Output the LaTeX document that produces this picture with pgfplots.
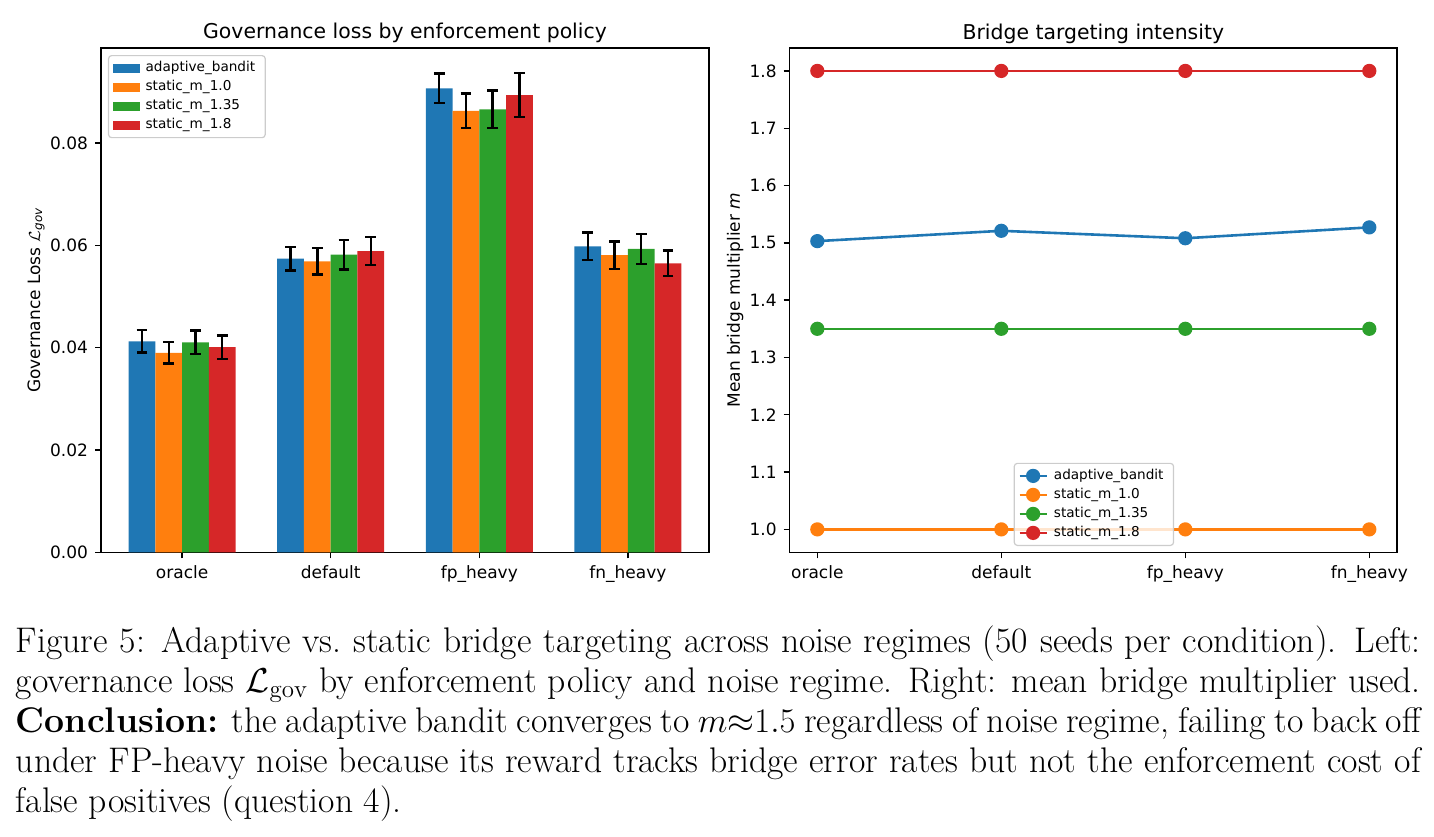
\documentclass[border=0pt]{standalone}
\usepackage{fontspec}
\newfontfamily\dejavu{DejaVu Sans}
\usepackage{amsmath}
\usepackage{pgfplots}
\pgfplotsset{compat=1.18}
\definecolor{c1}{HTML}{1F77B4}
\definecolor{c2}{HTML}{FF7F0E}
\definecolor{c3}{HTML}{2CA02C}
\definecolor{c4}{HTML}{D62728}
\pgfplotsset{
  every axis title/.style={at={(0.5,1)}, anchor=base, yshift=4.5pt, inner sep=0pt, font=\dejavu\fontsize{10.2}{12}\selectfont},
  base/.style={
    scale only axis, width=304pt, height=252.15pt,
    tick align=outside, tick pos=left, major tick length=3pt,
    tick style={black, line width=0.68pt},
    axis line style={black, line width=0.68pt},
    tick label style={font=\dejavu\fontsize{8.5}{10}\selectfont},
    /pgf/number format/assume math mode=true,
    label style={font=\dejavu\fontsize{8.5}{10}\selectfont},
    legend style={font=\dejavu\fontsize{6.8}{8}\selectfont, draw=black!20, line width=0.6pt, rounded corners=1.5pt,
      fill=white, fill opacity=0.8, text opacity=1, draw opacity=1, inner xsep=2pt, inner ysep=1.5pt,
      row sep=0pt, nodes={inner ysep=1.3pt, inner xsep=3pt, text height=5.3pt, text depth=1.6pt}},
    legend cell align=left,
    xtick={0,1,2,3}, xticklabels={oracle,default,fp\_heavy,fn\_heavy},
  },
  barleg/.style={/pgfplots/legend image code/.code={\fill[##1, sharp corners, fill opacity=1, opacity=1] (0pt,-2.25pt) rectangle (13.5pt,2.25pt);}},
  lineleg/.style={/pgfplots/legend image code/.code={\draw[mark repeat=2, mark phase=2, sharp corners, ##1, opacity=1, fill opacity=1, draw opacity=1] plot coordinates {(0pt,0pt) (6.75pt,0pt) (13.5pt,0pt)};}},
  errst/.style={error bars/.cd, y dir=both, y explicit,
    error bar style={line width=1.2pt, black},
    error mark options={line width=1.2pt, black, mark size=2.7pt, rotate=90}},
}
\begin{document}
\begin{tikzpicture}
\useasboundingbox (0,0) rectangle (717pt,418pt);
\begin{axis}[base, at={(50.5pt,141.85pt)}, anchor=south west,
  xmin=-0.546, xmax=3.546, ymin=0, ymax=0.0986,
  ytick={0,0.02,0.04,0.06,0.08}, scaled y ticks=false,
  yticklabel style={/pgf/number format/.cd, fixed, fixed zerofill, precision=2},
  ybar, bar width=0.18,
  title={Governance loss by enforcement policy},
  ylabel={Governance Loss $\mathcal{L}_{\text{\dejavu\itshape gov}}$},
  ylabel style={at={(axis description cs:-0.107,0.5)}, anchor=center},
  legend style={at={(0.0115,0.986)}, anchor=north west}]
\addplot[barleg, fill=c1, draw=none, bar shift=-0.27, errst] coordinates {
 (0,0.04125) +- (0,0.0022) (1,0.0574) +- (0,0.0023) (2,0.0907) +- (0,0.0029) (3,0.0598) +- (0,0.0027)};
\addlegendentry{adaptive\_bandit}
\addplot[barleg, fill=c2, draw=none, bar shift=-0.09, errst] coordinates {
 (0,0.0390) +- (0,0.0021) (1,0.0569) +- (0,0.0026) (2,0.0863) +- (0,0.0034) (3,0.0581) +- (0,0.0027)};
\addlegendentry{static\_m\_1.0}
\addplot[barleg, fill=c3, draw=none, bar shift=0.09, errst] coordinates {
 (0,0.04105) +- (0,0.0023) (1,0.0582) +- (0,0.0029) (2,0.0866) +- (0,0.0037) (3,0.0593) +- (0,0.0029)};
\addlegendentry{static\_m\_1.35}
\addplot[barleg, fill=c4, draw=none, bar shift=0.27, errst] coordinates {
 (0,0.0401) +- (0,0.00225) (1,0.0589) +- (0,0.0027) (2,0.0894) +- (0,0.0043) (3,0.0565) +- (0,0.0025)};
\addlegendentry{static\_m\_1.8}
\end{axis}
\begin{axis}[base, at={(394.85pt,141.85pt)}, anchor=south west, width=303.6pt,
  xmin=-0.15, xmax=3.15, ymin=0.96, ymax=1.84,
  ytick={1.0,1.1,1.2,1.3,1.4,1.5,1.6,1.7,1.8},
  yticklabel style={/pgf/number format/.cd, fixed, fixed zerofill, precision=1},
  title={Bridge targeting intensity},
  ylabel={Mean bridge multiplier {\itshape m}},
  ylabel style={at={(axis description cs:-0.090,0.5)}, anchor=center},
  legend style={at={(0.501,0.0125)}, anchor=south}]
\addplot[lineleg, c1, line width=1.3pt, mark=*, mark size=2.9pt] coordinates {(0,1.503) (1,1.521) (2,1.508) (3,1.527)};
\addlegendentry{adaptive\_bandit}
\addplot[lineleg, c2, line width=1.3pt, mark=*, mark size=2.9pt] coordinates {(0,1.0) (1,1.0) (2,1.0) (3,1.0)};
\addlegendentry{static\_m\_1.0}
\addplot[lineleg, c3, line width=1.3pt, mark=*, mark size=2.9pt] coordinates {(0,1.35) (1,1.35) (2,1.35) (3,1.35)};
\addlegendentry{static\_m\_1.35}
\addplot[lineleg, c4, line width=1.3pt, mark=*, mark size=2.9pt] coordinates {(0,1.8) (1,1.8) (2,1.8) (3,1.8)};
\addlegendentry{static\_m\_1.8}
\end{axis}
\node[anchor=north west, inner sep=0pt, text width=702.5pt, align=justify, font=\fontsize{17.8}{20}\selectfont] at (7.75pt,106.15pt)
{\strut Figure 5: Adaptive vs.\ static bridge targeting across noise regimes (50 seeds per condition). Left:\linebreak
governance loss $\mathcal{L}_{\mathrm{gov}}$ by enforcement policy and noise regime. Right: mean bridge multiplier used.\linebreak
\textbf{Conclusion:} the adaptive bandit converges to $m{\approx}1.5$ regardless of noise regime, failing to back off\linebreak
under FP-heavy noise because its reward tracks bridge error rates but not the enforcement cost of\linebreak
false positives (question 4).};
\end{tikzpicture}
\end{document}
